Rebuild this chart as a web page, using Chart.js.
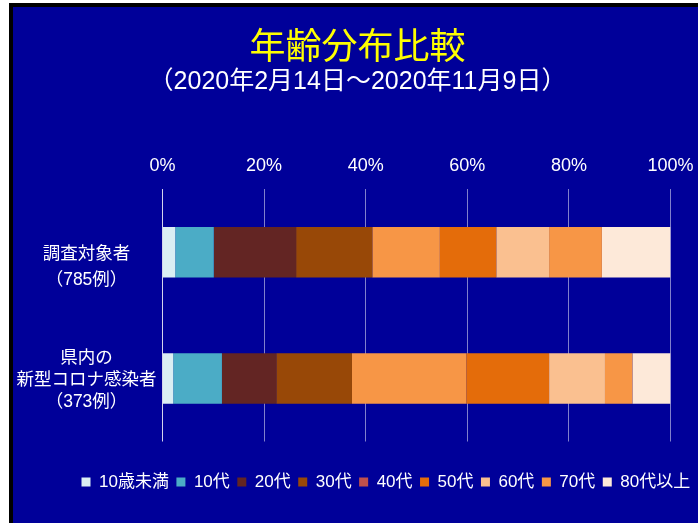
<!DOCTYPE html>
<html><head><meta charset="utf-8">
<script src="https://cdn.jsdelivr.net/npm/chart.js@4"></script>
<style>
html,body{margin:0;padding:0;background:#fff;overflow:hidden;width:698px;height:523px;}
#frame{position:absolute;left:9px;top:3px;width:685px;height:516px;border-left:4px solid #000;border-top:4px solid #000;background:#000099;}
canvas{display:block;}
</style></head><body>
<div id="frame"><canvas id="chart" width="685" height="516"></canvas></div>
<script>
const chartTitle = '年齢分布比較';
const chartSubtitle = '（2020年2月14日～2020年11月9日）';
const categories = [['調査対象者', '（785例）'], ['県内の', '新型コロナ感染者', '（373例）']];
const ageGroups = ['10歳未満', '10代', '20代', '30代', '40代', '50代', '60代', '70代', '80代以上'];
const surveyPct = [2.5, 7.6, 16.2, 15.0, 13.3, 11.1, 10.4, 10.4, 13.5];
const prefPct = [2.1, 9.6, 10.7, 14.9, 22.5, 16.3, 11.0, 5.4, 7.5];
const barColors = ['#DAEEF3', '#4BACC6', '#632523', '#984807', '#F79646', '#E46C0A', '#FAC090', '#F79646', '#FDE9D9'];
const legendColors = ['#DAEEF3', '#4BACC6', '#632523', '#984807', '#C0504D', '#E46C0A', '#FAC090', '#F79646', '#FDE9D9'];

const FONT = '"Liberation Sans", "Noto Sans CJK JP", sans-serif';

const datasets = ageGroups.map((g, i) => ({
  label: g,
  data: [surveyPct[i], prefPct[i]],
  backgroundColor: barColors[i],
  borderWidth: 0,
  barPercentage: 0.4,
  categoryPercentage: 1.0
}));

const layoutTweak = {
  id: 'layoutTweak',
  afterLayout(chart) {
    const l = chart.legend;
    if (l) {
      l.left = 61;
      l.right = 61 + 2000;
      l.top = 459;
      l.bottom = l.top + l.height;
    }
    const y = chart.scales.y;
    if (y) {
      y.left = 0;
      y.width = y.right;
    }
  }
};

new Chart(document.getElementById('chart'), {
  type: 'bar',
  data: { labels: categories, datasets },
  plugins: [layoutTweak],
  options: {
    responsive: false,
    animation: false,
    indexAxis: 'y',
    layout: { padding: { left: 31.5, right: 27.5, top: 0, bottom: 47 } },
    scales: {
      x: {
        position: 'top',
        stacked: true,
        min: 0, max: 100,
        ticks: {
          stepSize: 20,
          color: '#FFFFFF',
          padding: 12.2,
          font: { family: FONT, size: 18 },
          callback: v => v + '%'
        },
        grid: {
          drawTicks: false,
          color: ctx => (ctx.tick && ctx.tick.value === 0) ? '#D4D4EC' : 'rgba(255,255,255,0.5)',
          lineWidth: 1
        },
        border: { display: false },
        afterFit: s => { s.height = 33.8; s.paddingLeft = 0; s.paddingRight = 0; }
      },
      y: {
        stacked: true,
        ticks: {
          color: '#FFFFFF',
          crossAlign: 'center',
          padding: 6,
          labelOffset: 2,
          font: ctx => ({ family: FONT, size: 17.5, lineHeight: ctx.index === 0 ? 26 / 17.5 : 22 / 17.5 }),
          callback: function (value, index) {
            const lab = this.getLabelForValue(value);
            return index === 0 ? [''].concat(lab) : lab;
          }
        },
        grid: { display: false, drawTicks: false },
        border: { display: false },
        afterFit: s => { s.width = 118; s.paddingTop = 0; s.paddingBottom = 0; }
      }
    },
    plugins: {
      title: {
        display: true,
        text: chartTitle,
        color: '#FFFF00',
        font: { family: '"Noto Sans CJK JP", sans-serif', size: 36, weight: 'normal' },
        padding: { top: 16.4, bottom: 0 }
      },
      subtitle: {
        display: true,
        text: chartSubtitle,
        color: '#FFFFFF',
        font: { family: FONT, size: 25, weight: 'normal' },
        padding: { top: 0.5, bottom: 58.1 }
      },
      legend: {
        position: 'bottom',
        align: 'start',
        labels: {
          color: '#FFFFFF',
          boxWidth: 9,
          boxHeight: 9,
          padding: 7.5,
          font: { family: FONT, size: 17 },
          generateLabels: chart => chart.data.datasets.map((ds, i) => ({
            text: ds.label,
            fillStyle: legendColors[i],
            strokeStyle: legendColors[i],
            lineWidth: 0,
            fontColor: '#FFFFFF',
            hidden: false,
            datasetIndex: i
          }))
        }
      },
      tooltip: { enabled: false }
    }
  }
});
</script>
</body></html>
